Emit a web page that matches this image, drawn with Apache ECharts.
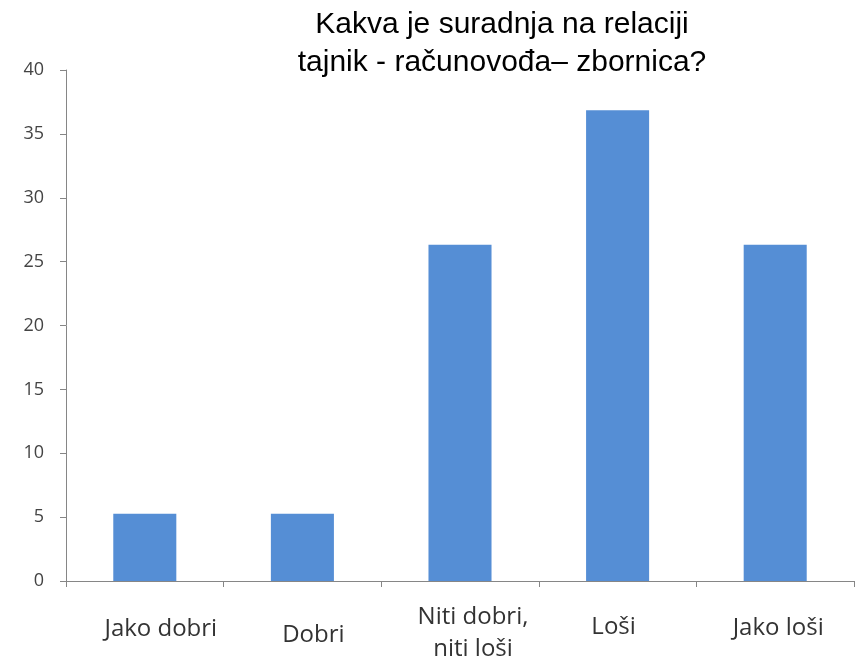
<!DOCTYPE html>
<html lang="hr">
<head>
    <meta charset="UTF-8">
    <title>Kakva je suradnja</title>
    <script src="https://cdn.jsdelivr.net/npm/echarts@6/dist/echarts.min.js"></script>
    <style>
        html, body { margin: 0; padding: 0; background: #fff; }
        #chart { width: 858px; height: 665px; }
    </style>
</head>
<body>
<div id="chart"></div>
<script>
    // podaci
    var categories = ['Jako dobri', 'Dobri', 'Niti dobri,\nniti loši', 'Loši', 'Jako loši'];
    var values = [5.26, 5.26, 26.32, 36.84, 26.32];
    var titleText = 'Kakva je suradnja na relaciji\ntajnik - računovođa– zbornica?';

    // pomak natpisa (kao na slici)
    var labelPadTop = [26, 32, 14, 24, 25];
    var labelShiftX = [16, 11, 13, -4, 3];

    var xData = categories.map(function (name, i) {
        var dx = labelShiftX[i];
        return {
            value: name,
            textStyle: {
                padding: [labelPadTop[i], dx < 0 ? -2 * dx : 0, 0, dx > 0 ? 2 * dx : 0]
            }
        };
    });

    var option = {
        animation: false,
        title: {
            text: titleText,
            left: 497,
            top: 1,
            textAlign: 'center',
            textStyle: {
                fontFamily: 'Liberation Sans',
                fontSize: 30,
                fontWeight: 'normal',
                color: '#000',
                lineHeight: 38
            }
        },
        grid: {
            left: 66,
            right: 4,
            top: 70,
            bottom: 83
        },
        xAxis: {
            type: 'category',
            data: xData,
            axisLine: { lineStyle: { color: '#868686', width: 1 } },
            axisTick: { show: true, length: 6, lineStyle: { color: '#868686' } },
            axisLabel: {
                interval: 0,
                margin: 6,
                color: '#333',
                fontFamily: 'Open Sans',
                fontSize: 24,
                lineHeight: 32
            }
        },
        yAxis: {
            type: 'value',
            min: 0,
            max: 40,
            interval: 5,
            axisLine: { show: true, lineStyle: { color: '#868686', width: 1 } },
            axisTick: { show: true, length: 6, lineStyle: { color: '#868686' } },
            splitLine: { show: false },
            axisLabel: {
                margin: 22,
                color: '#444',
                fontFamily: 'Open Sans',
                fontSize: 18
            }
        },
        series: [{
            type: 'bar',
            data: values,
            barWidth: '40%',
            itemStyle: { color: '#558ED5' }
        }]
    };

    var myChart = echarts.init(document.getElementById('chart'));
    myChart.setOption(option);
</script>
</body>
</html>
